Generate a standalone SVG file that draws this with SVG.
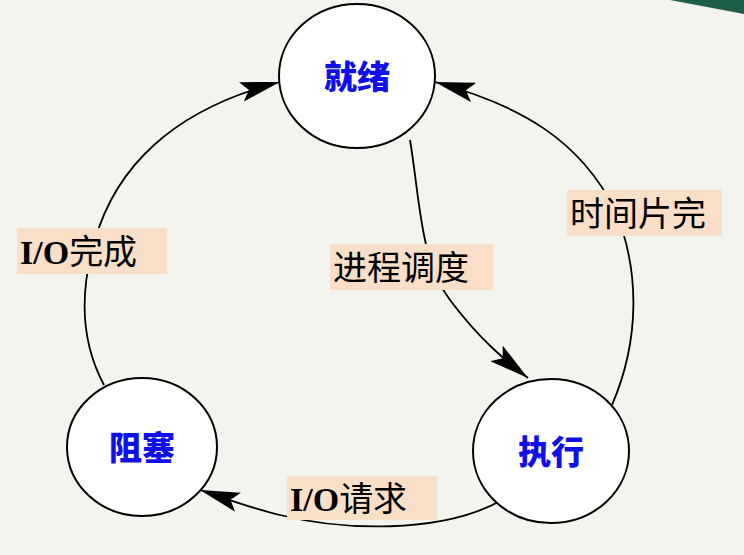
<svg xmlns="http://www.w3.org/2000/svg" width="744" height="555" viewBox="0 0 744 555">
<defs>
<marker id="arr" viewBox="0 0 40 20" refX="40" refY="10" markerWidth="40" markerHeight="20" markerUnits="userSpaceOnUse" orient="auto">
<path d="M0,0 L40,10 L0,20 L8,10 Z" fill="#000"/>
</marker>
</defs>
<style>
.node{fill:#fff;stroke:#000;stroke-width:2}
.nt{font-family:"Liberation Sans","Noto Sans CJK SC",sans-serif;font-weight:900;font-size:33px;fill:#1010e8;text-anchor:middle}
.lb{fill:#f9dfc8}
.lt{font-family:"Liberation Serif","Noto Sans CJK SC",serif;font-size:34px;fill:#000}
.c{fill:none;stroke:#000;stroke-width:1.8}
</style>
<rect width="744" height="555" fill="#f3f4ee"/>
<path d="M670,0 L744,0 L744,14 Z" fill="#1e5e48"/>
<g id="connectors">
<path class="c" d="M104,385 C80,340 80,290 95,240 C115,170 170,110 280,82" marker-end="url(#arr)"/>
<path class="c" d="M410,140 C420,200 420,260 450,300 C480,340 505,360 528,378" marker-end="url(#arr)"/>
<path class="c" d="M612,405 C640,340 640,270 615,210 C580,140 520,105 435,82" marker-end="url(#arr)"/>
<path class="c" d="M502,500 C440,535 340,530 280,515 C250,508 225,498 200,490" marker-end="url(#arr)"/>
</g>
<g id="n-ready"><ellipse class="node" cx="357" cy="76" rx="78" ry="72"/><text class="nt" x="357" y="89">就绪</text></g>
<g id="n-blocked"><ellipse class="node" cx="142" cy="447" rx="75" ry="69"/><text class="nt" x="142" y="460">阻塞</text></g>
<g id="n-run"><ellipse class="node" cx="551" cy="451" rx="78" ry="72"/><text class="nt" x="551" y="464">执行</text></g>
<g id="l1"><rect class="lb" x="17" y="228" width="150" height="46"/><text class="lt" x="20" y="264"><tspan font-weight="bold">I/O</tspan>完成</text></g>
<g id="l2"><rect class="lb" x="330" y="244" width="163" height="46"/><text class="lt" x="333" y="280">进程调度</text></g>
<g id="l3"><rect class="lb" x="567" y="190" width="155" height="46"/><text class="lt" x="570" y="226">时间片完</text></g>
<g id="l4"><rect class="lb" x="287" y="476" width="150" height="44"/><text class="lt" x="290" y="511"><tspan font-weight="bold">I/O</tspan>请求</text></g>
</svg>
